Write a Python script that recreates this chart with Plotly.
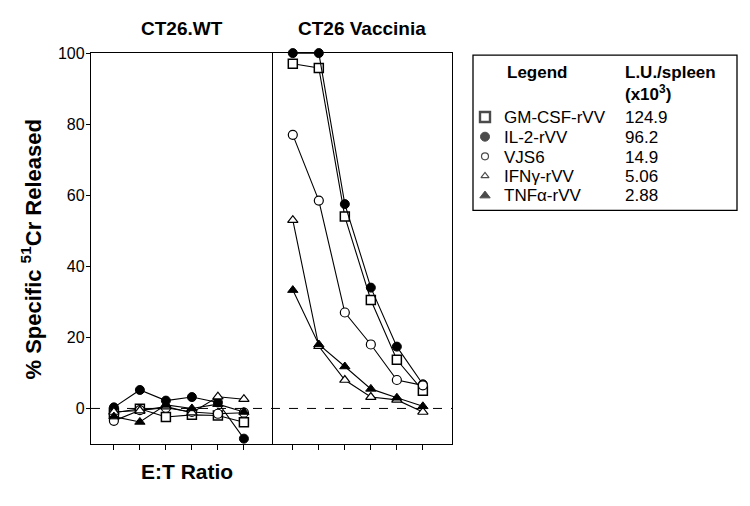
import plotly.graph_objects as go

# ---------------- data ----------------
et_points = [1, 2, 3, 4, 5, 6]
series_names = ["GM-CSF-rVV", "IL-2-rVV", "VJS6", "IFNγ-rVV", "TNFα-rVV"]
legend_names = ["GM-CSF-rVV", "IL-2-rVV", "VJS6", "IFN\u03b3-rVV", "TNF\u03b1-rVV"]
lu_values = ["124.9", "96.2", "14.9", "5.06", "2.88"]

wt_gmcsf = [-1.2, -0.1, -2.4, -1.8, -2.0, -3.9]
wt_il2 = [0.3, 5.2, 2.2, 3.2, 1.7, -8.5]
wt_vjs6 = [-3.5, -0.5, 0.2, -1.0, -1.5, -1.2]
wt_ifng = [-1.0, -0.6, 0.5, -1.2, 3.3, 2.6]
wt_tnfa = [-2.3, -3.8, 1.0, 0.0, 1.2, -1.0]

vac_gmcsf = [97.0, 95.8, 54.0, 30.5, 13.7, 5.0]
vac_il2 = [100.0, 100.0, 57.5, 34.0, 17.4, 6.8]
vac_vjs6 = [77.0, 58.5, 27.0, 18.0, 8.0, 6.5]
vac_ifng = [53.0, 17.5, 8.0, 3.2, 2.4, -1.0]
vac_tnfa = [33.3, 18.0, 11.8, 5.5, 3.0, 0.6]

y_ticks = [0, 20, 40, 60, 80, 100]

# ---------------- layout helpers (pixel -> paper) ----------------
W, H = 750, 506
def px_x(p):
    return p / W

def px_y(p):
    f = (p - 8) / 0.982
    return (H - f) / H

FONT = "Liberation Sans, Arial, Helvetica, sans-serif"
styles = [
    dict(symbol="square", size=9, color="white", line=dict(width=1.5, color="black")),
    dict(symbol="circle", size=9, color="black", line=dict(width=1, color="black")),
    dict(symbol="circle", size=9, color="white", line=dict(width=1.2, color="black")),
    dict(symbol="triangle-up", size=9, color="white", line=dict(width=1.2, color="black")),
    dict(symbol="triangle-up", size=9, color="black", line=dict(width=1, color="black")),
]
wt_data = [wt_gmcsf, wt_il2, wt_vjs6, wt_ifng, wt_tnfa]
vac_data = [vac_gmcsf, vac_il2, vac_vjs6, vac_ifng, vac_tnfa]

fig = go.Figure()

for name, st, ys in zip(series_names, styles, wt_data):
    fig.add_trace(go.Scatter(x=et_points, y=ys, mode="lines+markers", name=name,
                             line=dict(color="black", width=1.1),
                             marker=st, xaxis="x", yaxis="y", showlegend=False,
                             cliponaxis=False))
for name, st, ys in zip(series_names, styles, vac_data):
    fig.add_trace(go.Scatter(x=et_points, y=ys, mode="lines+markers", name=name,
                             line=dict(color="black", width=1.1),
                             marker=st, xaxis="x2", yaxis="y2", showlegend=False,
                             cliponaxis=False))

# legend markers on an invisible overlay axis
leg_rows = list(range(len(legend_names)))
fig.add_trace(go.Scatter(
    x=[0] * len(leg_rows), y=leg_rows, mode="markers", xaxis="x3", yaxis="y3",
    marker=dict(symbol=["square", "circle", "circle", "triangle-up", "triangle-up"],
                color=["white", "black", "white", "white", "black"],
                size=[10, 9, 7, 7, 9],
                line=dict(color="black", width=[2.4, 1, 1.2, 1.2, 1])),
    showlegend=False, hoverinfo="skip"))

axis_common = dict(showline=True, linecolor="black", linewidth=1.3,
                   showgrid=False, zeroline=False)
fig.update_layout(
    width=W, height=H,
    margin=dict(l=0, r=0, t=0, b=0),
    paper_bgcolor="white", plot_bgcolor="white",
    font=dict(family=FONT, color="black", size=17),
    xaxis=dict(domain=[px_x(91), px_x(272)], range=[0.12, 7.08], tickvals=et_points,
               showticklabels=False, ticks="outside", ticklen=5, tickcolor="black",
               anchor="y", mirror=True, **axis_common),
    xaxis2=dict(domain=[px_x(272), px_x(452)], range=[0.2, 7.12], tickvals=et_points,
                showticklabels=False, ticks="outside", ticklen=5, tickcolor="black",
                anchor="y2", mirror=True, **axis_common),
    yaxis=dict(domain=[px_y(443), px_y(53)], range=[-10, 100], tickvals=y_ticks,
               ticks="outside", ticklen=4, tickcolor="black", anchor="x", mirror=True,
               ticklabelstandoff=-2,
               tickfont=dict(size=16, family=FONT), **axis_common),
    yaxis2=dict(domain=[px_y(443), px_y(53)], range=[-10, 100], anchor="x2",
                side="right", mirror=False, showticklabels=False, ticks="", **axis_common),
    xaxis3=dict(domain=[px_x(478), px_x(492)], range=[-1, 1], visible=False, anchor="y3"),
    yaxis3=dict(domain=[px_y(205), px_y(107)], range=[4.5, -0.5], visible=False, anchor="x3"),
)

# dashed zero line across both panels
fig.add_shape(type="line", xref="paper", yref="y", x0=px_x(91), x1=px_x(452), y0=0, y1=0,
              line=dict(color="black", width=1, dash="dash"), layer="below")

ann = []
ann.append(dict(text="<b>CT26.WT</b>", x=px_x(182), y=px_y(28), font=dict(size=19)))
ann.append(dict(text="<b>CT26 Vaccinia</b>", x=px_x(362), y=px_y(28), font=dict(size=19)))
ann.append(dict(text="<b>E:T Ratio</b>", x=px_x(187), y=px_y(470), font=dict(size=21)))
ann.append(dict(text="<b>% Specific <sup>51</sup>Cr Released</b>", x=px_x(31),
                y=px_y(249), textangle=-90, font=dict(size=22)))
ann.append(dict(text="<b>Legend</b>", x=px_x(505), y=px_y(72), xanchor="left"))
ann.append(dict(text="<b>L.U./spleen</b>", x=px_x(623), y=px_y(72), xanchor="left"))
ann.append(dict(text="<b>(x10<sup>3</sup>)</b>", x=px_x(623), y=px_y(93), xanchor="left"))
row_y = [117, 137, 157, 176, 195]
for nm, val, ry in zip(legend_names, lu_values, row_y):
    ann.append(dict(text=nm, x=px_x(502), y=px_y(ry), xanchor="left"))
    ann.append(dict(text=val, x=px_x(623), y=px_y(ry), xanchor="left"))
for a in ann:
    a.setdefault("xref", "paper")
    a.setdefault("yref", "paper")
    a.setdefault("xanchor", "center")
    a.setdefault("yanchor", "middle")
    a.setdefault("showarrow", False)
    a.setdefault("font", dict(size=17))
fig.update_layout(annotations=ann)

# legend box
fig.add_shape(type="rect", xref="paper", yref="paper", x0=px_x(473), x1=px_x(737),
              y0=px_y(210), y1=px_y(55), line=dict(color="black", width=1.3))

post = ("document.body.style.margin='0';document.body.style.overflow='hidden';"
        "document.documentElement.style.overflow='hidden';"
        "var d=document.getElementsByClassName('plotly-graph-div')[0];"
        "d.style.position='fixed';d.style.top='0px';d.style.left='0px';")
fig.write_html("out.html", config={"displayModeBar": False}, post_script=post)
